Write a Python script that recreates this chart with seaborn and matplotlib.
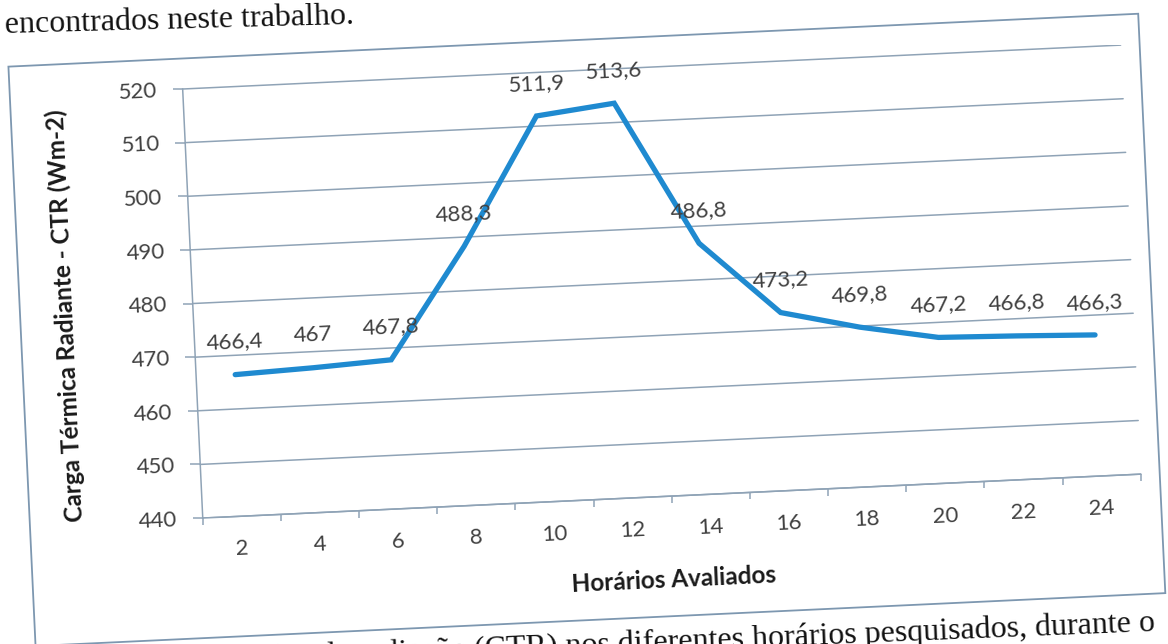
import matplotlib
matplotlib.use("Agg")
import matplotlib.pyplot as plt
import matplotlib.transforms as mtransforms
from matplotlib.axes import Axes
from matplotlib.patches import Rectangle
import seaborn as sns
import pandas as pd

# ---- data -------------------------------------------------------------
hours = [2, 4, 6, 8, 10, 12, 14, 16, 18, 20, 22, 24]
ctr = [466.4, 467.0, 467.8, 488.3, 511.9, 513.6, 486.8, 473.2, 469.8, 467.2, 466.8, 466.3]
y_ticks = [440, 450, 460, 470, 480, 490, 500, 510, 520]
x_title = "Horários Avaliados"
y_title = "Carga Térmica Radiante - CTR (Wm-2)"
text_above = "encontrados neste trabalho."
text_below = ("Figura 5. Carga térmica de radiação (CTR) nos diferentes "
              "horários pesquisados, durante o")

# ---- page geometry ----------------------------------------------------
W, H, DPI = 1168, 644, 100
TILT = 2.68          # the scanned page sits slightly askew
HEAD_TILT = 1.5
FOOT_TILT = 2.3
tilt = mtransforms.Affine2D().rotate_deg_around(W / 2, H / 2, TILT)


class TiltedAxes(Axes):
    """Ordinary axes whose whole coordinate system is rotated on the page."""
    name = "tilted"

    def _set_lim_and_transforms(self):
        super()._set_lim_and_transforms()
        base = mtransforms.BboxTransformTo(self.bbox)
        data = self.transScale + (self.transLimits + base)
        self.transAxes = base + tilt
        self.transData = data + tilt
        self._xaxis_transform = mtransforms.blended_transform_factory(data, base) + tilt
        self._yaxis_transform = mtransforms.blended_transform_factory(base, data) + tilt


sns.set_theme(style="white")
plt.rcParams["font.family"] = ["Lato", "DejaVu Sans"]

line_c = "#1f8ad0"
grid_c = "#8fa3b6"
text_c = "#404040"

fig = plt.figure(figsize=(W / DPI, H / DPI), dpi=DPI)
fig.patch.set_facecolor("white")

# plot area (unrotated pixel box: left 194, right 1133, top 70.5, bottom 500)
left, right, top, bottom = 194, 1133, 70.5, 500
ax = fig.add_axes([left / W, 1 - bottom / H, (right - left) / W, (bottom - top) / H],
                  axes_class=TiltedAxes)
ax.set_facecolor("none")

df = pd.DataFrame({"hora": hours, "ctr": ctr})
sns.lineplot(data=df, x="hora", y="ctr", ax=ax, color=line_c, linewidth=3.8,
             solid_joinstyle="miter")

ax.set_xlim(1, 25)
ax.set_ylim(440, 520)
ax.set_xlabel("")
ax.set_ylabel("")

ax.set_yticks(y_ticks)
ax.set_xticks(hours)
ax.set_xticks([h - 1 for h in hours] + [hours[-1] + 1], minor=True)

ax.grid(axis="y", color=grid_c, linewidth=1.1)
ax.grid(axis="x", visible=False)
for side in ("top", "right"):
    ax.spines[side].set_visible(False)
for side in ("left", "bottom"):
    ax.spines[side].set_color(grid_c)
    ax.spines[side].set_linewidth(1.1)

ax.tick_params(axis="y", which="major", direction="out", length=7, width=1.1,
               color=grid_c, pad=11, labelsize=16, labelcolor=text_c,
               labelrotation=TILT, left=True)
ax.tick_params(axis="x", which="major", length=0, pad=16, labelsize=16,
               labelcolor=text_c, labelrotation=TILT, bottom=True)
ax.tick_params(axis="x", which="minor", direction="out", length=5, width=1.1,
               color=grid_c, bottom=True)

# value labels above each point
for h, v in zip(hours, ctr):
    ax.annotate(("%g" % v).replace(".", ","), (h, v), xytext=(0, 23.5),
                textcoords="offset points", ha="center", va="center",
                fontsize=16, color=text_c, rotation=TILT, rotation_mode="anchor")

# axis titles
ax.text(0.498, -0.195, x_title, transform=ax.transAxes, ha="center", va="center",
        fontsize=17.5, fontweight="bold", color="#1a1a1a",
        rotation=TILT, rotation_mode="anchor")
ax.text(-0.1354, 0.487, y_title, transform=ax.transAxes, ha="center", va="center",
        fontsize=17.5, fontweight="bold", color="#1a1a1a",
        rotation=90 + TILT, rotation_mode="anchor")

# chart-area border
frame = Rectangle((21, 24), 1131, 580, transform=tilt, fill=False,
                  edgecolor="#7d97b0", linewidth=1.3)
fig.add_artist(frame)

# surrounding page text
fig.text(5 / W, 1 - 33 / H, text_above, family=["Liberation Serif", "DejaVu Serif"],
         fontsize=23, color="#111111", ha="left", va="baseline",
         rotation=HEAD_TILT, rotation_mode="anchor")
fig.text(1155 / W, 1 - 631 / H, text_below, family=["Liberation Serif", "DejaVu Serif"],
         fontsize=23, color="#111111", ha="right", va="baseline",
         rotation=FOOT_TILT, rotation_mode="anchor")

fig.savefig("out.png", dpi=DPI, facecolor="white")
